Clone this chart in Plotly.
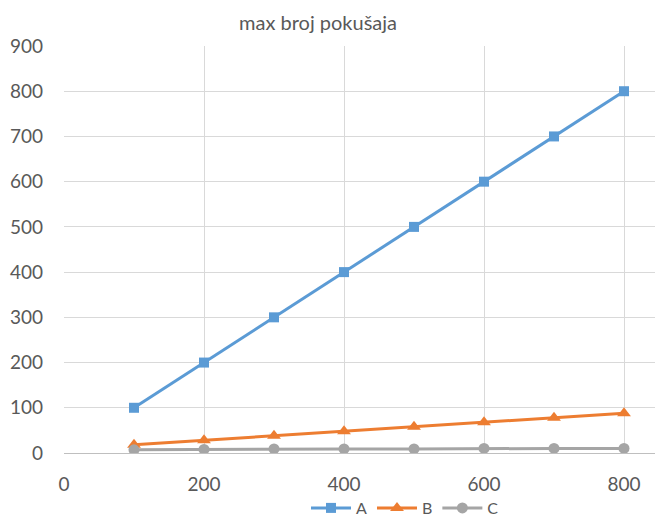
import plotly.graph_objects as go

x_vals = [100, 200, 300, 400, 500, 600, 700, 800]
series_a = [100, 200, 300, 400, 500, 600, 700, 800]
series_b = [18, 28, 38, 48, 58, 68, 78, 88]
series_c = [7, 8, 9, 9, 9, 10, 10, 10]
x_ticks = [0, 200, 400, 600, 800]
y_ticks = [0, 100, 200, 300, 400, 500, 600, 700, 800, 900]

FONT = "Lato"
TXT = "#595959"

# the page draws the figure 8px in from the top-left corner
OFF = 8
PL, PT, PB, PR = 64 - OFF, 46 - OFF, 453 - OFF, 663 - OFF
W, H = 663, 519
PW, PH = PR - PL, PB - PT

fig = go.Figure()
fig.add_trace(go.Scatter(x=x_vals, y=series_a, name="A", mode="lines+markers",
                         line=dict(color="#5B9BD5", width=3),
                         marker=dict(symbol="square", size=10, color="#5B9BD5")))
fig.add_trace(go.Scatter(x=x_vals, y=series_b, name="B", mode="lines+markers",
                         line=dict(color="#ED7D31", width=3),
                         marker=dict(symbol="triangle-up", size=12, color="#ED7D31")))
fig.add_trace(go.Scatter(x=x_vals, y=series_c, name="C", mode="lines+markers",
                         line=dict(color="#A5A5A5", width=3),
                         marker=dict(symbol="circle", size=11, color="#A5A5A5")))

fig.update_layout(
    width=W, height=H,
    margin=dict(l=PL, r=W - PR, t=PT, b=H - PB, autoexpand=False),
    paper_bgcolor="white", plot_bgcolor="white",
    font=dict(family=FONT, size=19, color=TXT),
    title=dict(text="max broj pokušaja", x=(318 - OFF) / W, xanchor="center",
               y=1 - (23 - OFF) / H, yanchor="middle",
               font=dict(family=FONT, size=20, color=TXT)),
    legend=dict(orientation="h", x=(405 - OFF - PL) / PW, xanchor="center",
                y=-(508 - OFF - PB) / PH, yanchor="middle",
                font=dict(family=FONT, size=16, color=TXT),
                itemwidth=40, tracegroupgap=0),
    showlegend=True,
)
fig.update_xaxes(range=[0, (663 - 64) / 0.7], tickvals=x_ticks, showgrid=True,
                 gridcolor="#D9D9D9", gridwidth=1, zeroline=False,
                 showline=True, linecolor="#BFBFBF", linewidth=1,
                 ticks="", ticklabelstandoff=14, automargin=False,
                 tickfont=dict(family=FONT, size=19, color=TXT))
fig.update_yaxes(range=[0, 900], tickvals=y_ticks, showgrid=True,
                 gridcolor="#D9D9D9", gridwidth=1, zeroline=False,
                 showline=False, ticks="", ticklabelstandoff=20, automargin=False,
                 tickfont=dict(family=FONT, size=19, color=TXT))

fig.write_html("out.html")
